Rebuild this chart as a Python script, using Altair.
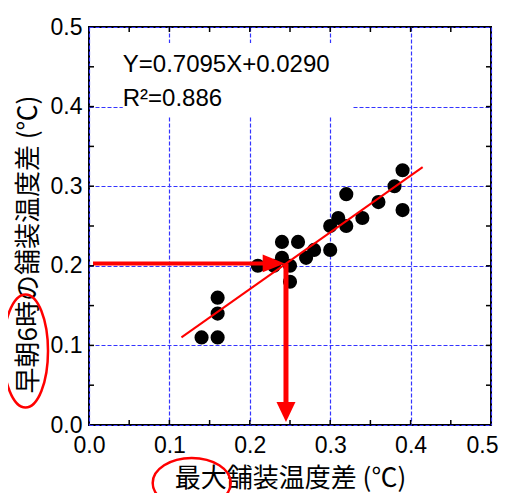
import altair as alt
import pandas as pd

# ---- data ----
pt_x = [0.14, 0.16, 0.16, 0.16, 0.21, 0.23, 0.24, 0.26, 0.24, 0.25, 0.25, 0.27,
        0.28, 0.30, 0.30, 0.31, 0.32, 0.32, 0.34, 0.36, 0.38, 0.39, 0.39]
pt_y = [0.11, 0.11, 0.14, 0.16, 0.20, 0.20, 0.23, 0.23, 0.21, 0.20, 0.18, 0.21,
        0.22, 0.22, 0.25, 0.26, 0.25, 0.29, 0.26, 0.28, 0.30, 0.32, 0.27]
fit_x = [0.115, 0.415]
fit_y = [0.110, 0.324]
label_vals = [0.0, 0.1, 0.2, 0.3, 0.4, 0.5]
tick_vals = [0.05, 0.10, 0.15, 0.20, 0.25, 0.30, 0.35, 0.40, 0.45]
eq_lines = ["Y=0.7095X+0.0290", "R²=0.886"]
eq_x = [0.042, 0.042]
eq_y = [0.443, 0.401]
box_x = [0.042, 0.328]
box_y = [0.387, 0.480]
arr_h_x = [0.005, 0.218]
arr_h_y = [0.203]
arr_v_x = [0.245]
arr_v_y = [0.203, 0.028]
head_h = [0.2297, 0.203]
head_v = [0.245, 0.0164]
x_title = "最大舗装温度差 (℃)"
y_title = "早朝6時の舗装温度差 (℃)"

W, H = 402, 398
RED = "#ff0000"
GRID = "#3434ff"
xs = alt.Scale(domain=[0, 0.5], nice=False, zero=False)
ys = alt.Scale(domain=[0, 0.5], nice=False, zero=False)

def ellipse_path(rx, ry, k=0.5523):
    return (f"M {rx},0 C {rx},{k*ry} {k*rx},{ry} 0,{ry} "
            f"C {-k*rx},{ry} {-rx},{k*ry} {-rx},0 "
            f"C {-rx},{-k*ry} {-k*rx},{-ry} 0,{-ry} "
            f"C {k*rx},{-ry} {rx},{-k*ry} {rx},0 Z")

pts = pd.DataFrame({"x": pt_x, "y": pt_y})
fit = pd.DataFrame({"x": fit_x, "y": fit_y})
ticks = pd.DataFrame({"t": tick_vals})
one = pd.DataFrame({"a": [0]})

x_axis = alt.Axis(values=label_vals, format=".1f", grid=True, gridColor=GRID,
                  gridDash=[4, 2], gridWidth=1.2, gridOpacity=1, ticks=False,
                  domain=False,
                  labelFontSize=23, labelFont="Liberation Sans", labelColor="black",
                  labelPadding=9, labelFlush=False,
                  labelOffset={"condition": {"test": "datum.value >= 0.5", "value": -9},
                               "value": 0},
                  title=x_title, titleFont="Noto Sans CJK JP", titleFontSize=26,
                  titleFontWeight="normal", titleColor="black",
                  titleX=W / 2, titleY=53, titleBaseline="middle", titleAlign="center")
y_axis = alt.Axis(values=label_vals, format=".1f", grid=True, gridColor=GRID,
                  gridDash=[4, 2], gridWidth=1.2, gridOpacity=1, ticks=False,
                  domain=False,
                  labelFontSize=23, labelFont="Liberation Sans", labelColor="black",
                  labelPadding=7, labelFlush=False,
                  title=y_title, titleFont="Noto Sans CJK JP", titleFontSize=26,
                  titleFontWeight="normal", titleColor="black",
                  titleX=-61, titleY=217, titleAngle=270, titleBaseline="middle",
                  titleAlign="center")

def X(f="x"):
    return alt.X(f"{f}:Q", scale=xs, axis=x_axis)

def Y(f="y"):
    return alt.Y(f"{f}:Q", scale=ys, axis=y_axis)

box = alt.Chart(pd.DataFrame({"x": [box_x[0]], "x2": [box_x[1]],
                              "y": [box_y[0]], "y2": [box_y[1]]})).mark_rect(
    color="white").encode(x=X(), x2="x2", y=Y(), y2="y2")

points = alt.Chart(pts).mark_circle(size=200, color="black", opacity=1).encode(
    x=X(), y=Y())

fit_line = alt.Chart(fit).mark_line(color=RED, strokeWidth=2).encode(x=X(), y=Y())

h_shaft = alt.Chart(pd.DataFrame({"x": [arr_h_x[0]], "x2": [arr_h_x[1]],
                                  "y": arr_h_y})).mark_rule(
    color=RED, strokeWidth=4).encode(x=X(), x2="x2", y=Y())
v_shaft = alt.Chart(pd.DataFrame({"x": arr_v_x, "y": [arr_v_y[0]],
                                  "y2": [arr_v_y[1]]})).mark_rule(
    color=RED, strokeWidth=5).encode(x=X(), y=Y(), y2="y2")
h_head = alt.Chart(pd.DataFrame({"x": [head_h[0]], "y": [head_h[1]]})).mark_point(
    shape="M -1,-0.8 L 1,0 L -1,0.8 Z", size=484, filled=True, color=RED,
    opacity=1).encode(x=X(), y=Y())
v_head = alt.Chart(pd.DataFrame({"x": [head_v[0]], "y": [head_v[1]]})).mark_point(
    shape="M -0.95,-1 L 0.95,-1 L 0,1 Z", size=400, filled=True, color=RED,
    opacity=1).encode(x=X(), y=Y())

tick_b = alt.Chart(ticks).mark_rule(color="black", strokeWidth=1.5).encode(
    x=X("t"), y=alt.value(H), y2=alt.value(H - 5))
tick_t = alt.Chart(ticks).mark_rule(color="black", strokeWidth=1.5).encode(
    x=X("t"), y=alt.value(0), y2=alt.value(5))
tick_l = alt.Chart(ticks).mark_rule(color="black", strokeWidth=1.5).encode(
    y=Y("t"), x=alt.value(0), x2=alt.value(5))
tick_r = alt.Chart(ticks).mark_rule(color="black", strokeWidth=1.5).encode(
    y=Y("t"), x=alt.value(W), x2=alt.value(W - 5))

eq = alt.Chart(pd.DataFrame({"x": eq_x, "y": eq_y, "t": eq_lines})).mark_text(
    font="Liberation Sans", fontSize=24, color="black", align="left",
    baseline="alphabetic").encode(x=X(), y=Y(), text="t:N")

ell_y = alt.Chart(one).mark_point(
    shape=ellipse_path(45 / 113, 1.0), size=113 ** 2, filled=False,
    stroke=RED, strokeWidth=2.5, opacity=1).encode(
    x=alt.value(-63.5), y=alt.value(324))
ell_x = alt.Chart(one).mark_point(
    shape=ellipse_path(1.0, 50 / 78), size=78 ** 2, filled=False,
    stroke=RED, strokeWidth=2.5, opacity=1).encode(
    x=alt.value(102.7), y=alt.value(456))

chart = alt.layer(box, points, fit_line, h_shaft, v_shaft, h_head, v_head,
                  tick_b, tick_t, tick_l, tick_r, eq, ell_y, ell_x).properties(
    width=W, height=H,
    autosize=alt.AutoSizeParams(type="none"),
    padding={"left": 81, "top": 19, "right": 8, "bottom": 68},
    background="white",
).configure_view(stroke="black", strokeWidth=2)

chart.save("out.html", embed_options={"renderer": "svg", "actions": False})
